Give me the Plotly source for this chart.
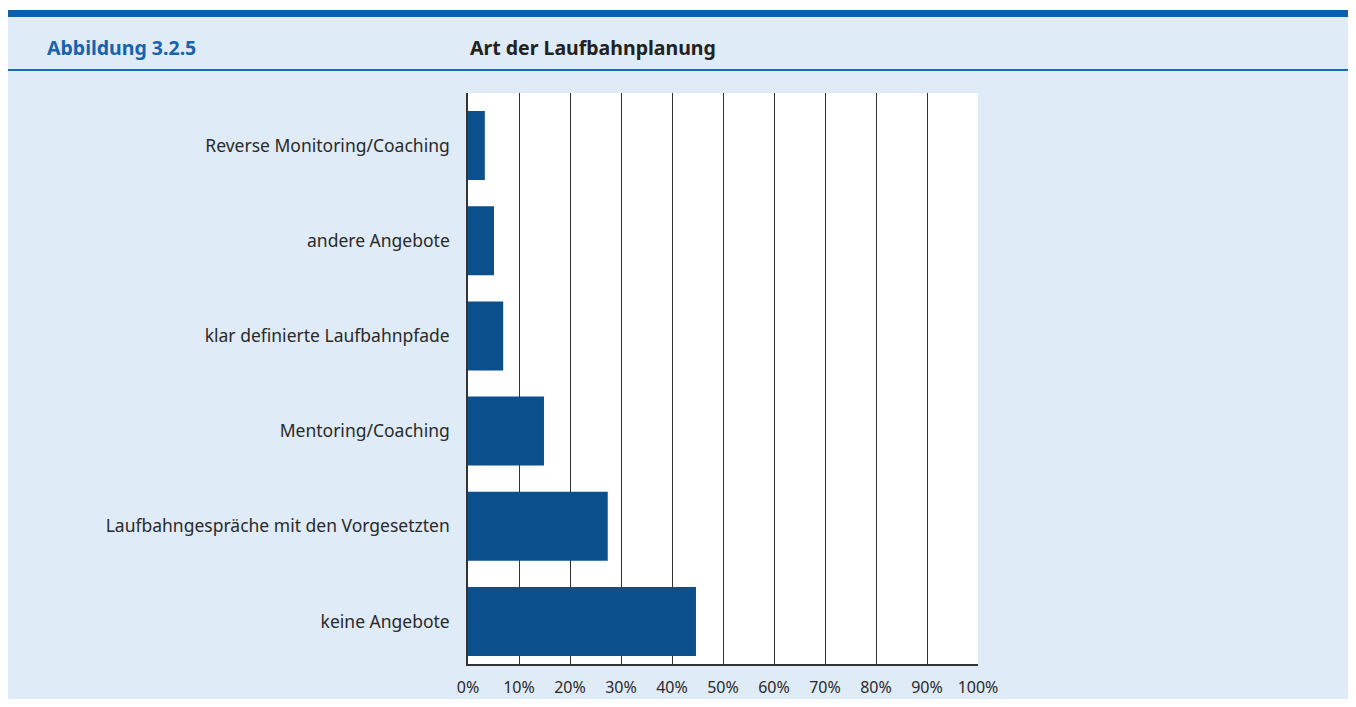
import plotly.graph_objects as go

categories = [
    "keine Angebote",
    "Laufbahngespräche mit den Vorgesetzten",
    "Mentoring/Coaching",
    "klar definierte Laufbahnpfade",
    "andere Angebote",
    "Reverse Monitoring/Coaching",
]
values = [44.7, 27.4, 14.9, 6.9, 5.1, 3.3]
tick_vals = [0, 10, 20, 30, 40, 50, 60, 70, 80, 90, 100]
tick_text = [f"{v}%" for v in tick_vals]

# the page has an 8px body margin; size the figure so it fits inside the window
OFF = 8
W, H = 1356 - 2 * OFF, 707 - 2 * OFF
L, R, T, B = 468 - OFF, 978 - OFF, 93 - OFF, 664 - OFF
FONT = "Noto Sans"


def px(x):
    return (x - OFF - L) / (R - L)


def py(y):
    return (B - (y - OFF)) / (B - T)


fig = go.Figure(
    go.Bar(
        y=categories,
        x=values,
        orientation="h",
        marker=dict(color="#0b4f8c", line=dict(width=0)),
        hoverinfo="skip",
    )
)

shapes = [
    # white strip above the panel
    dict(type="rect", xref="paper", yref="paper", x0=px(0), x1=px(1356), y0=py(0), y1=py(10),
         fillcolor="white", line=dict(width=0), layer="below"),
    # top dark blue band
    dict(type="rect", xref="paper", yref="paper", x0=px(7), x1=px(1354), y0=py(10), y1=py(17),
         fillcolor="#0b61ad", line=dict(width=0), layer="below"),
    # divider line under header
    dict(type="line", xref="paper", yref="paper", x0=px(7), x1=px(1354), y0=py(70), y1=py(70),
         line=dict(color="#1b6ab4", width=2), layer="below"),
]

annotations = [
    dict(text="<b>Abbildung 3.2.5</b>", xref="paper", yref="paper", x=px(45), y=py(48),
         xanchor="left", yanchor="middle", showarrow=False,
         font=dict(family=FONT, size=19.5, color="#1763ae")),
    dict(text="<b>Art der Laufbahnplanung</b>", xref="paper", yref="paper", x=px(468), y=py(48),
         xanchor="left", yanchor="middle", showarrow=False,
         font=dict(family=FONT, size=19.5, color="#222222")),
]

fig.update_layout(
    width=W,
    height=H,
    autosize=False,
    margin=dict(l=L, r=W - R, t=T, b=H - B, pad=0, autoexpand=False),
    paper_bgcolor="#dfebf7",
    plot_bgcolor="white",
    bargap=0.275,
    showlegend=False,
    shapes=shapes,
    annotations=annotations,
    font=dict(family=FONT, size=16, color="#2a2a2a"),
)

fig.update_xaxes(
    range=[0, 100],
    tickvals=tick_vals,
    ticktext=tick_text,
    automargin=False,
    showgrid=True,
    gridcolor="#333333",
    gridwidth=1,
    zeroline=False,
    showline=True,
    linecolor="#333333",
    linewidth=1.5,
    mirror=False,
    ticks="outside",
    ticklen=8,
    tickcolor="rgba(0,0,0,0)",
    tickfont=dict(family=FONT, size=16, color="#2a2a2a"),
    fixedrange=True,
)
fig.update_yaxes(
    range=[-0.446, 5.551],
    automargin=False,
    showgrid=False,
    zeroline=False,
    showline=True,
    linecolor="#333333",
    linewidth=1.5,
    ticks="outside",
    ticklen=13,
    tickcolor="rgba(0,0,0,0)",
    tickfont=dict(family=FONT, size=17.5, color="#2a2a2a"),
    fixedrange=True,
)

fig.write_html("out.html")
